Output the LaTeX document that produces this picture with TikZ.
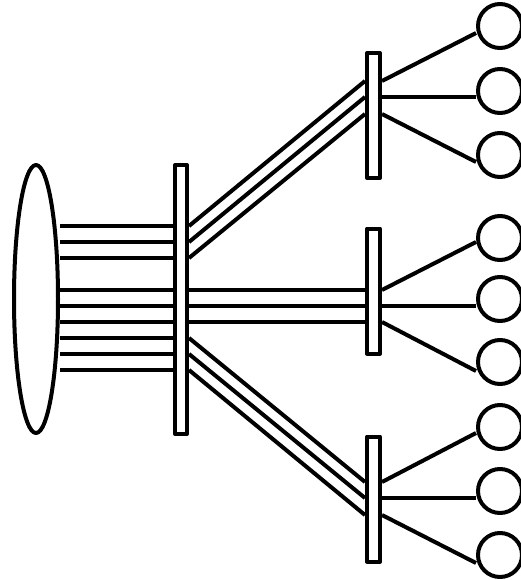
\documentclass[tikz,border=0pt]{standalone}
\usetikzlibrary{shapes.geometric}
\begin{document}
\begin{tikzpicture}[x=1pt,y=-1pt,line width=4pt,line join=round,
  bar/.style={draw,fill=white,rectangle,inner sep=0pt,minimum width=13pt,minimum height=125pt},
  leaf/.style={draw,fill=white,circle,inner sep=0pt,minimum size=44pt},
  hub/.style={draw,fill=white,ellipse,inner sep=0pt,minimum width=44pt,minimum height=268pt}]
\useasboundingbox (0,0) rectangle (521,580);
% shapes
\node[hub] (E) at (36,299) {};
\node[bar,minimum width=12pt,minimum height=269pt] (B) at (181,299.5) {};
\node[bar] (S1) at (373.5,115.5) {};
\node[bar] (S2) at (373.5,291) {};
\node[bar] (S3) at (373.5,499) {};
\foreach \n/\y in {1/26,2/91,3/155,4/238,5/299,6/362,7/427,8/491,9/555}
  \node[leaf] (C\n) at (500,\y) {};
% hub to big bar
\foreach \y in {226,242,258,290,306,322,338,354,370}
  \draw (E.east |- 0,\y) -- (B.west |- 0,\y);
% big bar to small bars
\foreach \a/\b in {226/81,242/97,258/114}
  \draw (B.east |- 0,\a) -- (S1.west |- 0,\b);
\foreach \a in {290,306,322}
  \draw (B.east |- 0,\a) -- (S2.west |- 0,\a);
\foreach \a/\b in {338/482,354/498,370/515}
  \draw (B.east |- 0,\a) -- (S3.west |- 0,\b);
% small bars to leaves
\draw (S1.east |- 0,81) -- (C1.west |- 0,33);
\draw (S1.east |- 0,97) -- (C2.west |- 0,97);
\draw (S1.east |- 0,114) -- (C3.west |- 0,162);
\draw (S2.east |- 0,290) -- (C4.west |- 0,242);
\draw (S2.east |- 0,306) -- (C5.west |- 0,306);
\draw (S2.east |- 0,322) -- (C6.west |- 0,371);
\draw (S3.east |- 0,482) -- (C7.west |- 0,433);
\draw (S3.east |- 0,498) -- (C8.west |- 0,498);
\draw (S3.east |- 0,515) -- (C9.west |- 0,563);
\end{tikzpicture}
\end{document}
